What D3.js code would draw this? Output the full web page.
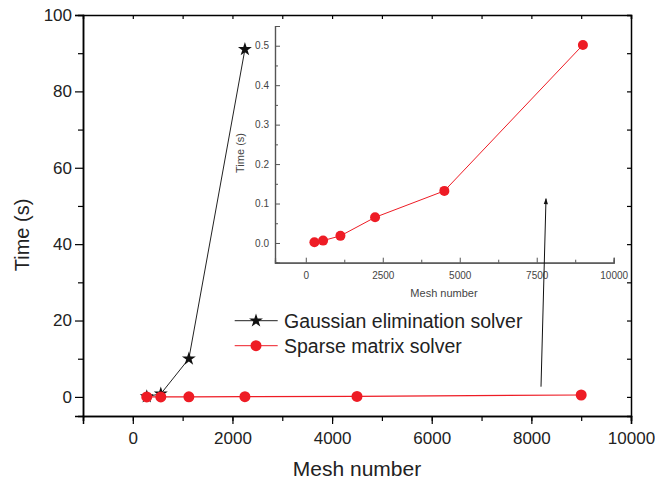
<!DOCTYPE html>
<html>
<head>
<meta charset="utf-8">
<script src="https://cdn.jsdelivr.net/npm/d3@7"></script>
<style>
body{margin:0;background:#fff;}
text{font-family:"Liberation Sans",Arial,sans-serif;}
</style>
</head>
<body>
<div id="chart"></div>
<script>
var W = 655, H = 483;

// data
var mesh = [280, 562, 1125, 2250, 4500, 9000];
var gaussMesh = [280, 562, 1125, 2250];
var gaussTime = [0.1, 0.8, 10, 91];
var sparseTime = [0.002, 0.006, 0.018, 0.065, 0.132, 0.502];
var xTicks = [0, 2000, 4000, 6000, 8000, 10000];
var yTicks = [0, 20, 40, 60, 80, 100];
var insetXTicks = [0, 2500, 5000, 7500, 10000];
var insetYTicks = [0, 0.1, 0.2, 0.3, 0.4, 0.5];
var legendNames = ["Gaussian elimination solver", "Sparse matrix solver"];

var svg = d3.select("#chart").append("svg").attr("width", W).attr("height", H);

var x = d3.scaleLinear().domain([-1000, 10000]).range([83, 631]);
var y = d3.scaleLinear().domain([-5, 100]).range([416, 15]);

var red = "#ee1c25";

// main axes
var gx = svg.append("g").attr("transform", "translate(0,416)")
    .call(d3.axisBottom(x).tickValues(xTicks).tickSize(8).tickFormat(d3.format("d")));
svg.append("g").attr("transform", "translate(0,416)")
    .call(d3.axisBottom(x).tickValues(d3.range(-1000, 10001, 1000)).tickSize(5).tickFormat(""));
var gy = svg.append("g").attr("transform", "translate(83,0)")
    .call(d3.axisLeft(y).tickValues(yTicks).tickSize(8));
svg.append("g").attr("transform", "translate(83,0)")
    .call(d3.axisLeft(y).tickValues([10, 30, 50, 70, 90]).tickSize(5).tickFormat(""));
svg.append("g").attr("transform", "translate(0,15)")
    .call(d3.axisBottom(x).tickValues(d3.range(0, 10001, 1000)).tickSize(4).tickFormat(""));
svg.append("g").attr("transform", "translate(631,0)")
    .call(d3.axisLeft(y).tickValues(d3.range(0, 101, 10)).tickSize(4).tickFormat(""));

svg.selectAll(".domain").attr("stroke", "#000").attr("stroke-width", 1.5);
svg.selectAll(".tick line").attr("stroke", "#000").attr("stroke-width", 1.2);
svg.selectAll(".tick text").attr("font-size", 17).attr("fill", "#222")
    .attr("font-family", "Liberation Sans, Arial, sans-serif");
gx.selectAll(".tick text").attr("dy", "0.95em").attr("y", 12);
gy.selectAll(".tick text").attr("x", -11);

svg.append("text").attr("x", 357).attr("y", 476).attr("text-anchor", "middle")
    .attr("font-size", 21).attr("fill", "#222").text("Mesh number");
svg.append("text").attr("transform", "translate(29,235) rotate(-90)").attr("text-anchor", "middle")
    .attr("font-size", 20).attr("fill", "#222").text("Time (s)");

// inset
var ix = d3.scaleLinear().domain([-1000, 10000]).range([275, 613.7]);
var iy = d3.scaleLinear().domain([-0.05, 0.55]).range([262.7, 26]);
var inset = svg.append("g");
var ign = "#555";
var igx = inset.append("g").attr("transform", "translate(0,262.7)")
    .call(d3.axisTop(ix).tickValues(insetXTicks).tickSize(5).tickFormat(d3.format("d")));
inset.append("g").attr("transform", "translate(0,262.7)")
    .call(d3.axisTop(ix).tickValues([1250, 3750, 6250, 8750]).tickSize(3).tickFormat(""));
var igy = inset.append("g").attr("transform", "translate(275,0)")
    .call(d3.axisRight(iy).tickValues(insetYTicks).tickSize(5).tickFormat(d3.format(".1f")));
inset.append("g").attr("transform", "translate(275,0)")
    .call(d3.axisRight(iy).tickValues([0.05, 0.15, 0.25, 0.35, 0.45]).tickSize(3).tickFormat(""));
inset.selectAll(".domain").attr("stroke", ign).attr("stroke-width", 1.2);
inset.selectAll(".tick line").attr("stroke", ign);
inset.selectAll(".tick text").attr("font-size", 10).attr("fill", "#444")
    .attr("font-family", "Liberation Sans, Arial, sans-serif");
igx.selectAll(".tick text").attr("y", 9).attr("dy", "0.71em");
igy.selectAll(".tick text").attr("x", -6).attr("text-anchor", "end");
inset.append("text").attr("x", 444).attr("y", 297).attr("text-anchor", "middle")
    .attr("font-size", 11).attr("fill", "#444").text("Mesh number");
inset.append("text").attr("transform", "translate(244,153) rotate(-90)").attr("text-anchor", "middle")
    .attr("font-size", 11).attr("fill", "#444").text("Time (s)");

inset.append("path").datum(mesh.map(function(m, i){return [m, sparseTime[i]];}))
    .attr("fill", "none").attr("stroke", red).attr("stroke-width", 1)
    .attr("d", d3.line().x(function(d){return ix(d[0]);}).y(function(d){return iy(d[1]);}));
inset.selectAll("circle").data(mesh).enter().append("circle")
    .attr("cx", function(d){return ix(d);}).attr("cy", function(d, i){return iy(sparseTime[i]);})
    .attr("r", 5).attr("fill", red);

// main series
var star = d3.symbol().type(d3.symbolStar).size(60);
svg.append("path").datum(gaussMesh.map(function(m, i){return [m, gaussTime[i]];}))
    .attr("fill", "none").attr("stroke", "#222").attr("stroke-width", 1)
    .attr("d", d3.line().x(function(d){return x(d[0]);}).y(function(d){return y(d[1]);}));
svg.selectAll(".star").data(gaussMesh).enter().append("path").attr("class", "star")
    .attr("transform", function(d, i){return "translate(" + x(d) + "," + y(gaussTime[i]) + ")";})
    .attr("d", star).attr("fill", "#111");

svg.append("path").datum(mesh.map(function(m, i){return [m, sparseTime[i]];}))
    .attr("fill", "none").attr("stroke", red).attr("stroke-width", 1.2)
    .attr("d", d3.line().x(function(d){return x(d[0]);}).y(function(d){return y(d[1]);}));
svg.selectAll(".dot").data(mesh).enter().append("circle").attr("class", "dot")
    .attr("cx", function(d){return x(d);}).attr("cy", function(d, i){return y(sparseTime[i]);})
    .attr("r", 5.5).attr("fill", red);

// arrow
svg.append("defs").append("marker").attr("id", "ah").attr("viewBox", "0 0 10 10")
    .attr("refX", 9).attr("refY", 5).attr("markerWidth", 9).attr("markerHeight", 6)
    .attr("orient", "auto").append("path").attr("d", "M0,1.5L10,5L0,8.5Z").attr("fill", "#111");
svg.append("line").attr("x1", 541).attr("y1", 386.7).attr("x2", 546).attr("y2", 198.7)
    .attr("stroke", "#111").attr("stroke-width", 1).attr("marker-end", "url(#ah)");

// legend
var leg = svg.append("g");
legendNames.forEach(function(name, i){
  var ly = 320.7 + i * 25;
  var c = i == 0 ? "#222" : red;
  leg.append("line").attr("x1", 234.7).attr("x2", 277.7).attr("y1", ly).attr("y2", ly)
      .attr("stroke", c).attr("stroke-width", 1);
  if (i == 0) leg.append("path").attr("transform", "translate(256," + ly + ")").attr("d", star).attr("fill", "#111");
  else leg.append("circle").attr("cx", 256).attr("cy", ly).attr("r", 5.5).attr("fill", red);
  leg.append("text").attr("x", 284).attr("y", ly).attr("dy", "0.35em")
      .attr("font-size", 19.5).attr("fill", "#222").text(name);
});
</script>
</body>
</html>
